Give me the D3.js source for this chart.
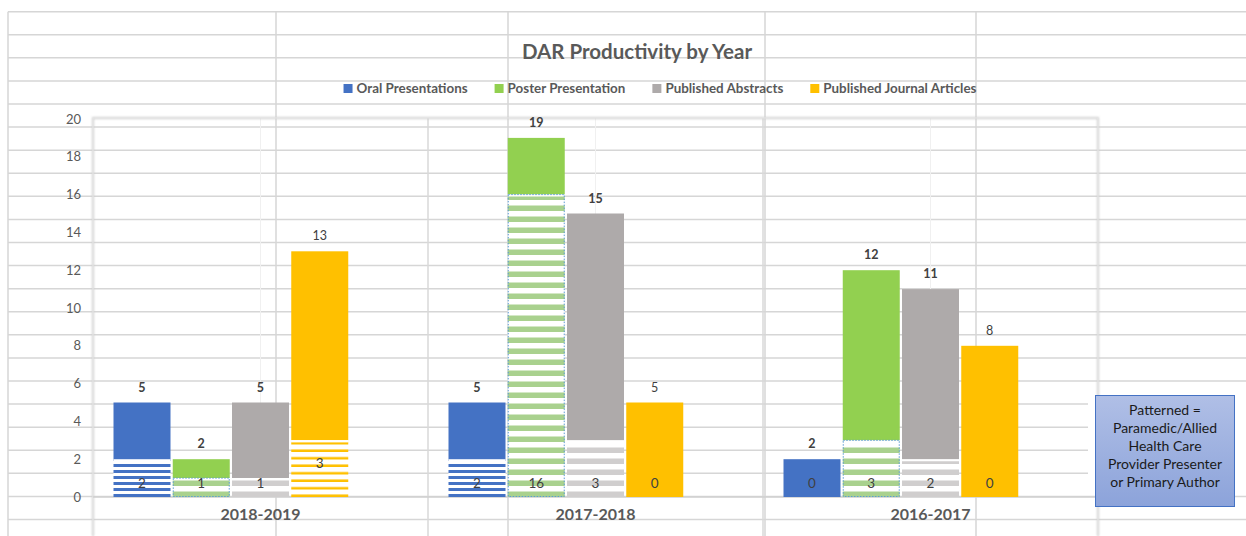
<!DOCTYPE html>
<html>
<head>
<meta charset="utf-8">
<script src="https://cdn.jsdelivr.net/npm/d3@7"></script>
<style>
  html, body { margin: 0; padding: 0; background: #fff; }
  svg { display: block; font-family: Lato, "Open Sans", sans-serif; }
</style>
</head>
<body>
<svg id="chart" width="1246" height="536"></svg>
<script>
// ---- data ----
const years = ["2018-2019", "2017-2018", "2016-2017"];
const series = ["Oral Presentations", "Poster Presentation", "Published Abstracts", "Published Journal Articles"];
const oralTotal      = [5, 5, 2];
const posterTotal    = [2, 19, 12];
const abstractsTotal = [5, 15, 11];
const journalTotal   = [13, 5, 8];
const oralPatterned      = [2, 2, 0];
const posterPatterned    = [1, 16, 3];
const abstractsPatterned = [1, 3, 2];
const journalPatterned   = [3, 0, 0];
const yTicks = [0, 2, 4, 6, 8, 10, 12, 14, 16, 18, 20];
const noteLines = ["Patterned =", "Paramedic/Allied", "Health Care", "Provider Presenter", "or Primary Author"];

const totals = [oralTotal, posterTotal, abstractsTotal, journalTotal];
const patterned = [oralPatterned, posterPatterned, abstractsPatterned, journalPatterned];
const colors = ["#4472c4", "#92d050", "#aeaaaa", "#ffc000"];
const stripeColors = ["#4472c4", "#a9d18e", "#d0cece", "#ffc000"];
const stripePeriod = [6, 11, 11, 7.5];
const stripeThick = [3, 5.5, 5.5, 2.5];

const svg = d3.select("#chart");
const defs = svg.append("defs");

// patterns
series.forEach((s, i) => {
  const p = defs.append("pattern").attr("id", "pat" + i)
    .attr("patternUnits", "userSpaceOnUse")
    .attr("width", 8).attr("height", stripePeriod[i])
    .attr("y", 497);
  p.append("rect").attr("width", 8).attr("height", stripePeriod[i]).attr("fill", "#fff");
  p.append("rect").attr("y", stripePeriod[i] - stripeThick[i]).attr("width", 8).attr("height", stripeThick[i]).attr("fill", stripeColors[i]);
});
const grad = defs.append("linearGradient").attr("id", "boxGrad").attr("x1", 0).attr("y1", 0).attr("x2", 0).attr("y2", 1);
grad.append("stop").attr("offset", "0%").attr("stop-color", "#b0bfe6");
grad.append("stop").attr("offset", "100%").attr("stop-color", "#8ca3da");
const blur = defs.append("filter").attr("id", "shadow").attr("x", "-50%").attr("y", "-50%").attr("width", "200%").attr("height", "200%");
blur.append("feGaussianBlur").attr("stdDeviation", 1.2);

// ---- spreadsheet grid ----
const rowLines = d3.range(0, 23).map(k => 11.7 + 23.08 * k);
const colLines = [8, 276, 508, 765, 976];
svg.append("g").selectAll("line").data(rowLines).join("line")
  .attr("x1", 8).attr("x2", 1246).attr("y1", d => d).attr("y2", d => d)
  .attr("stroke", "#d6d6d6").attr("stroke-width", 1.5);
svg.append("g").selectAll("line").data(colLines).join("line")
  .attr("x1", d => d).attr("x2", d => d).attr("y1", 11.7).attr("y2", 536)
  .attr("stroke", "#d6d6d6").attr("stroke-width", 1.5);

// ---- scales ----
const plotL = 93, plotR = 1098, plotT = 118;
const y = d3.scaleLinear().domain([0, 20]).range([497, 119]);
const x0 = d3.scaleBand().domain(years).range([plotL, plotR]);
const x1 = d3.scaleBand().domain([...series, "_spare"]).range([0, x0.bandwidth()])
  .paddingInner(0.038).paddingOuter(0.346);

// chart gridlines (category boundaries and centres)
const g = svg.append("g");
g.selectAll("line.bound").data(years.slice(1)).join("line").attr("class", "bound")
  .attr("x1", d => x0(d)).attr("x2", d => x0(d)).attr("y1", plotT).attr("y2", 536)
  .attr("stroke", "#d9d9d9").attr("stroke-width", 1.5);
g.selectAll("line.center").data(years).join("line").attr("class", "center")
  .attr("x1", d => x0(d) + x0.bandwidth() / 2).attr("x2", d => x0(d) + x0.bandwidth() / 2)
  .attr("y1", plotT).attr("y2", 497)
  .attr("stroke", "#f0f0f0").attr("stroke-width", 1);

// plot frame with soft shadow
const frame = svg.append("g");
frame.append("path").attr("d", `M${plotL},536V${plotT}H${plotR}V536`)
  .attr("fill", "none").attr("stroke", "#d0d0d0").attr("stroke-width", 2).attr("filter", "url(#shadow)");
frame.append("path").attr("d", `M${plotL},536V${plotT}H${plotR}V536`)
  .attr("fill", "none").attr("stroke", "#e6e6e6").attr("stroke-width", 1);
// baseline
svg.append("line").attr("x1", plotL).attr("x2", plotR).attr("y1", y(0)).attr("y2", y(0))
  .attr("stroke", "#d0d0d0").attr("stroke-width", 1.5);

// ---- y axis ----
const yAxis = d3.axisLeft(y).tickValues(yTicks).tickSize(0).tickPadding(0);
const ya = svg.append("g").attr("transform", "translate(81,0)").call(yAxis);
ya.select(".domain").remove();
ya.selectAll("text").attr("font-size", 13).attr("fill", "#595959")
  .attr("font-family", "Lato, sans-serif");

// ---- x axis labels ----
const xAxis = d3.axisBottom(x0).tickSize(0).tickPadding(0);
const xa = svg.append("g").attr("transform", "translate(0,509)").call(xAxis);
xa.select(".domain").remove();
xa.selectAll("text").attr("font-size", 16).attr("font-weight", "bold").attr("fill", "#595959")
  .attr("font-family", "Lato, sans-serif");

// ---- bars ----
const barData = [];
years.forEach((yr, yi) => {
  series.forEach((s, si) => {
    barData.push({ yr, yi, s, si, total: totals[si][yi], pat: patterned[si][yi] });
  });
});
const bars = svg.append("g").selectAll("g").data(barData).join("g")
  .attr("transform", d => `translate(${x0(d.yr) + x1(d.s)},0)`);
// solid part
bars.append("rect")
  .attr("x", 0).attr("width", x1.bandwidth())
  .attr("y", d => y(d.total)).attr("height", d => y(d.pat) - y(d.total))
  .attr("fill", d => colors[d.si]);
// patterned part
bars.filter(d => d.pat > 0).append("rect")
  .attr("x", 0).attr("width", x1.bandwidth())
  .attr("y", d => y(d.pat)).attr("height", d => y(0) - y(d.pat))
  .attr("fill", d => `url(#pat${d.si})`);
bars.filter(d => d.pat > 0).append("line")
  .attr("x1", 0).attr("x2", x1.bandwidth()).attr("y1", d => y(d.pat) + 1).attr("y2", d => y(d.pat) + 1)
  .attr("stroke", "#fff").attr("stroke-width", 2);
bars.filter(d => d.pat > 0 && d.si === 1).append("rect")
  .attr("x", 0.5).attr("width", x1.bandwidth() - 1)
  .attr("y", d => y(d.pat)).attr("height", d => y(0) - y(d.pat) - 0.5)
  .attr("fill", "none").attr("stroke", "#5b9bd5").attr("stroke-width", 1).attr("stroke-dasharray", "1.5,1.5");

// total labels
bars.append("text")
  .attr("x", x1.bandwidth() / 2).attr("y", d => y(d.total) - 11)
  .attr("text-anchor", "middle").attr("font-size", 12.5)
  .attr("font-weight", d => d.si === 3 ? "normal" : "bold")
  .attr("fill", "#404040")
  .text(d => d.total);
// patterned labels
bars.append("text")
  .attr("x", x1.bandwidth() / 2)
  .attr("y", d => (d.si === 3 && d.yi === 0) ? y(1.8) + 5 : y(0) - 9)
  .attr("text-anchor", "middle").attr("font-size", 13.5)
  .attr("fill", "#404040")
  .text(d => d.pat);

// ---- title ----
svg.append("text").attr("x", 637).attr("y", 59).attr("text-anchor", "middle")
  .attr("font-size", 20.5).attr("font-weight", "bold").attr("fill", "#595959")
  .text("DAR Productivity by Year");

// ---- legend ----
const leg = svg.append("g");
let lx = 0;
series.forEach((s, i) => {
  const it = leg.append("g");
  it.append("rect").attr("x", 0).attr("y", -9).attr("width", 9).attr("height", 9).attr("fill", colors[i]);
  const t = it.append("text").attr("x", 13).attr("y", 0).attr("font-size", 13.4).attr("font-weight", "bold")
    .attr("fill", "#595959").text(s);
  const w = 13 + t.node().getComputedTextLength();
  it.attr("transform", `translate(${lx},0)`);
  lx += w + 27;
});
const legW = lx - 27;
leg.attr("transform", `translate(${660 - legW / 2},93)`);

// ---- note box ----
svg.append("rect").attr("x", 1088).attr("y", 398).attr("width", 158).attr("height", 96).attr("fill", "#fff");
svg.append("rect").attr("x", 1095.5).attr("y", 395.5).attr("width", 139).attr("height", 111)
  .attr("fill", "url(#boxGrad)").attr("stroke", "#4472c4").attr("stroke-width", 1);
svg.append("g").selectAll("text").data(noteLines).join("text")
  .attr("x", 1165).attr("y", (d, i) => 415 + i * 18)
  .attr("text-anchor", "middle").attr("font-size", 14).attr("fill", "#1a1a1a")
  .text(d => d);
</script>
</body>
</html>
